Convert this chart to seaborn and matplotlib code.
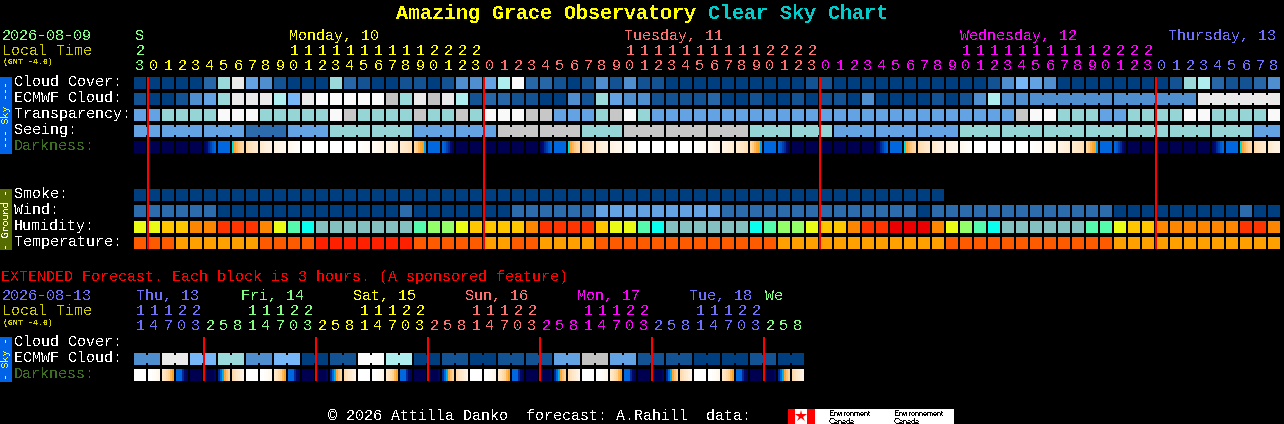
import numpy as np
import pandas as pd
import matplotlib
matplotlib.use("Agg")
import matplotlib.pyplot as plt
from matplotlib.colors import ListedColormap, LinearSegmentedColormap
from matplotlib.patches import Rectangle
import seaborn as sns

W, H = 1284, 424

# ---- scales: level -> colour -------------------------------------------
CLOUD_LEVELS = [0, 10, 20, 30, 40, 50, 60, 70, 80, 90, 100]
CLOUD_COLORS = ["#003F7F", "#135393", "#2767A7", "#4F8FCF", "#63A3E3", "#77B7F7",
                "#9ADADA", "#AEEEEE", "#C2C2C2", "#EAEAEA", "#FBFBFB"]
QUALITY_COLORS = ["#003F7F", "#2C6CAC", "#63A3E3", "#95D5D5", "#C7C7C7", "#F9F9F9"]
HUMID_COLORS = ["#85C0C0", "#09FEED", "#55FAAD", "#94FE6A", "#EAFB16", "#FEC600",
                "#FC8602", "#FE3401", "#EA0000"]
TEMP_COLORS = ["#FFA000", "#FE5A00", "#FF2000"]
DARK_STOPS = [(0.0, "#000050"), (0.12, "#000A70"), (0.25, "#0040B0"), (0.32, "#0068E0"),
              (0.40, "#00B0F0"), (0.44, "#00E0E0"), (0.48, "#FFA020"), (0.60, "#FFC880"),
              (0.75, "#FFE4C0"), (0.90, "#FFF4E6"), (1.0, "#FFFFFF")]

# ---- main forecast rows --------------------------------------------------
CLOUD_COVER = [0,0,0,0,0,20,60,90,40,30,10,0,0,0,60,20,10,0,0,10,10,
               0,10,30,30,40,70,100,20,20,10,0,10,30,10,30,10,10,0,0,0,0,0,0,0,0,0,0,10,10,0,0,
               0,0,0,0,0,0,0,0,0,10,30,50,40,30,0,0,0,0,0,0,0,0,10,60,70,20,10,10,20,30]
ECMWF_CLOUD = [10,0,0,10,30,40,60,90,90,90,70,50,90,100,100,100,100,100,80,60,90,
               80,90,70,10,20,20,10,10,0,0,30,10,60,40,30,30,10,10,10,10,20,0,0,10,0,0,10,0,10,10,0,
               30,0,0,0,0,10,0,10,30,70,30,30,30,30,30,30,30,30,30,30,30,30,30,30,90,90,90,90,90,90]
ECMWF_MERGED = [(64, 69), (70, 75), (76, 81)]
TRANSPARENCY = [2,2,3,3,3,3,5,5,5,3,3,3,3,3,5,4,3,3,3,3,4,
                3,3,4,3,5,5,5,4,4,2,2,2,3,4,5,3,2,2,2,2,2,2,2,2,2,2,2,2,2,2,2,
                2,2,2,2,2,2,2,2,2,2,2,4,5,5,3,3,3,2,2,3,3,3,3,5,5,3,3,3,3,5]
SEEING_3H = [2,2,2,1,2,3,3,2,2,4,4,3,4,4,4,3,3,2,2,2,3,3,3,3,3,3,3,2]
SEEING_SPANS = [2] + [3] * 26 + [2]
SMOKE = [0] * 58
WIND = [1,1,1,1,1,1,0,0,0,0,0,0,0,0,0,0,0,0,0,1,0,
        0,0,0,0,0,0,1,1,1,1,1,1,2,2,2,2,2,2,2,2,2,1,1,1,1,1,1,1,1,1,1,
        1,1,1,1,0,1,1,1,1,1,1,1,1,1,1,1,1,1,0,0,0,0,0,0,0,0,0,1,0,0]
HUMIDITY = [4,4,5,5,6,6,7,7,7,6,4,2,1,0,0,0,0,0,0,0,2,
            3,3,4,5,5,5,5,6,7,7,7,7,5,4,4,2,1,0,0,0,0,0,0,1,2,3,3,4,5,5,6,
            7,7,8,8,8,6,4,3,2,1,0,0,0,0,0,0,2,2,4,5,5,6,6,6,6,6,6,7,7,6]
TEMPERATURE = [1,1,1,0,0,0,0,0,0,1,1,1,1,2,2,2,2,2,2,2,1,
               1,1,1,1,0,0,1,1,0,0,0,0,1,1,1,1,1,1,1,1,1,1,1,1,1,0,0,0,0,0,0,
               0,0,0,0,0,0,1,1,1,1,1,1,1,1,1,1,1,1,0,0,0,0,0,0,0,0,0,0,0,0]

# darkness: a flat level, or six readings across a block where it changes
NIGHT, DAY = 0.0, 1.0
TWI_AM = 0.32
DARK_DAY = [NIGHT, NIGHT, NIGHT, NIGHT, NIGHT,
            [.05, .12, .20, .25, .30, .32], TWI_AM,
            [.44, .50, .55, .60, .65, .68], [.70, .72, .74, .76, .78, .80],
            [.80, .82, .84, .86, .87, .88], [.88, .89, .90, .91, .92, .93],
            [.93, .94, .95, .96, .98, .99], DAY, DAY, DAY, DAY,
            [1., .99, .98, .97, .96, .95], [.95, .94, .93, .92, .91, .90],
            [.90, .88, .87, .85, .84, .82], [.82, .80, .78, .76, .74, .72],
            [.68, .62, .55, .50, .48, .38], TWI_AM,
            [.32, .30, .25, .20, .12, .05], NIGHT]
DARKNESS = DARK_DAY * 3 + DARK_DAY[:10]

# ---- extended forecast rows ---------------------------------------------
EXT_ECMWF_6H = [30,90,50,60,30,50,0,10,100,70,0,10,0,10,10,40,80,40,10,10,0,0,10,0]
EXT_DARK_DAY = [DAY, [1., 1., .98, .96, .94, .92], [.80, .75, .70, .65, .55, .48],
                [.32, .32, .32, .20, .10, .05], NIGHT, [0., 0., 0., 0., 0., .06],
                [.20, .32, .40, .50, .58, .65], [.70, .74, .78, .82, .86, .90]]
EXT_DARKNESS = EXT_DARK_DAY * 6

# ---- labels ---------------------------------------------------------------
UNITS_MAIN = "3" + "012345678901234567890123" * 3 + "012345678"
TENS_MAIN = "2" + "          11111111112222" * 3 + "         "
UNITS_EXT = "14703" + "25814703" * 5 + "258"
TENS_EXT = "11122" + "   11122" * 5 + "   "

GREEN, YELLOW, PINK, MAGENTA, PERIWINKLE = "#80FF80", "#FFFF00", "#FF7070", "#FF00FF", "#7070FF"
MAIN_DAY_COLOR = [(1, GREEN), (24, YELLOW), (24, PINK), (24, MAGENTA), (9, PERIWINKLE)]
EXT_DAY_COLOR = [(5, PERIWINKLE), (8, GREEN), (8, YELLOW), (8, PINK), (8, MAGENTA), (8, PERIWINKLE), (3, GREEN)]
MAIN_DAY_NAMES = [("S", 0, GREEN), ("Monday, 10", 11, YELLOW), ("Tuesday, 11", 34.95, PINK),
                  ("Wednesday, 12", 58.95, MAGENTA), ("Thursday, 13", 73.8, PERIWINKLE)]
EXT_DAY_NAMES = [("Thu, 13", 0, PERIWINKLE), ("Fri, 14", 7.5, GREEN), ("Sat, 15", 15.5, YELLOW),
                 ("Sun, 16", 23.5, PINK), ("Mon, 17", 31.5, MAGENTA), ("Tue, 18", 39.5, PERIWINKLE),
                 ("We", 44.9, GREEN)]
SKY_LABELS = ["Cloud Cover:", "ECMWF Cloud:", "Transparency:", "Seeing:", "Darkness:"]
GROUND_LABELS = ["Smoke:", "Wind:", "Humidity:", "Temperature:"]
EXT_LABELS = ["Cloud Cover:", "ECMWF Cloud:", "Darkness:"]
MIDNIGHT_MAIN = [1, 25, 49, 73]
MIDNIGHT_EXT = [5, 13, 21, 29, 37, 45]

# ---- helpers ----------------------------------------------------------------
sns.set_theme(style="dark")
plt.rcParams["font.family"] = ["Liberation Mono", "DejaVu Sans Mono"]
plt.rcParams["text.antialiased"] = False
plt.rcParams["text.hinting"] = "native"
plt.rcParams["text.hinting_factor"] = 1

fig = plt.figure(figsize=(W / 100, H / 100), dpi=100, facecolor="black")
X0, PITCH, CELL = 134, 14, 12
SUB_X, SUB_Y = 7, 6  # a block is 7x6 samples of 2 px: six filled plus one gap column


def col_x(i):
    return X0 + PITCH * i


def strip(top, values, cmap, vmin, vmax, joins=()):
    """One row of blocks as a seaborn heatmap; joins=(a, b) fuses blocks a..b."""
    n = len(values)
    grid = np.full((SUB_Y, n * SUB_X), np.nan)
    for i, v in enumerate(values):
        if v is None:
            continue
        grid[:, i * SUB_X:i * SUB_X + SUB_X - 1] = np.asarray(v, dtype=float)
    for a, b in joins:
        for i in range(a, b):
            v = values[i]
            last = v[-1] if isinstance(v, list) else v
            grid[1:-1, i * SUB_X + SUB_X - 1] = last
    ax = fig.add_axes([X0 / W, 1 - (top + CELL) / H, n * PITCH / W, CELL / H])
    sns.heatmap(pd.DataFrame(grid), ax=ax, cmap=cmap, vmin=vmin, vmax=vmax, cbar=False,
                xticklabels=False, yticklabels=False, linewidths=0, rasterized=False)
    ax.axis("off")
    return ax


def cat_strip(top, values, colors, joins=()):
    strip(top, values, ListedColormap(colors), -0.5, len(colors) - 0.5, joins)


def cloud_idx(values):
    return [CLOUD_LEVELS.index(v) for v in values]


def expand(groups, spans):
    out = []
    for g, s in zip(groups, spans):
        out += [g] * s
    return out


def spans_to_joins(spans):
    joins, start = [], 0
    for s in spans:
        joins.append((start, start + s - 1))
        start += s
    return joins


dark_cmap = LinearSegmentedColormap.from_list("darkness", DARK_STOPS, N=256)

# ---- draw strips -------------------------------------------------------------
cat_strip(77, cloud_idx(CLOUD_COVER), CLOUD_COLORS)
cat_strip(93, cloud_idx(ECMWF_CLOUD), CLOUD_COLORS, ECMWF_MERGED)
cat_strip(109, TRANSPARENCY, QUALITY_COLORS)
cat_strip(125, expand(SEEING_3H, SEEING_SPANS), QUALITY_COLORS, spans_to_joins(SEEING_SPANS))
strip(141, DARKNESS, dark_cmap, 0, 1)
cat_strip(189, SMOKE, QUALITY_COLORS)
cat_strip(205, WIND, QUALITY_COLORS)
cat_strip(221, HUMIDITY, HUMID_COLORS)
cat_strip(237, TEMPERATURE, TEMP_COLORS)
ext_spans = [2] * len(EXT_ECMWF_6H)
cat_strip(353, cloud_idx(expand(EXT_ECMWF_6H, ext_spans)), CLOUD_COLORS, spans_to_joins(ext_spans))
strip(369, EXT_DARKNESS, dark_cmap, 0, 1)

# ---- overlay in pixel units ----------------------------------------------------
ov = fig.add_axes([0, 0, 1, 1], zorder=10)
ov.set_xlim(0, W)
ov.set_ylim(H, 0)
ov.axis("off")

ov.vlines([col_x(i) for i in MIDNIGHT_MAIN], 77, 249, color="#FF0000", lw=1.44)
ov.vlines([col_x(i) for i in MIDNIGHT_EXT], 337, 381, color="#FF0000", lw=1.44)

FS = 15 * 0.72


def txt(x, y, s, color="white", size=FS, **kw):
    return ov.text(x, y, s, color=color, fontsize=size, va="baseline", ha=kw.pop("ha", "left"), **kw)


def column_colors(spans):
    out = []
    for n, c in spans:
        out += [c] * n
    return out


def hour_rows(tens, units, spans, base_tens, base_units):
    colors = column_colors(spans)
    for i, (t, u) in enumerate(zip(tens, units)):
        cx = col_x(i) + 6
        if t != " ":
            txt(cx, base_tens, t, colors[i], ha="center")
        txt(cx, base_units, u, colors[i], ha="center")


# title
title_kw = dict(size=20 * 0.72, fontweight="bold")
txt(396, 19, "Amazing Grace Observatory", YELLOW, **title_kw)
txt(708, 19, "Clear Sky Chart", "#00CCCC", **title_kw)

# main header
txt(2, 40, "2026-08-09", GREEN)
txt(2, 55, "Local Time", "#CCCC00")
txt(3, 64, "(GMT -4.0)", "#CCCC00", size=5.6, fontweight="bold")
for name, col, c in MAIN_DAY_NAMES:
    txt(col_x(col) + 1, 40, name, c)
hour_rows(TENS_MAIN, UNITS_MAIN, MAIN_DAY_COLOR, 55, 70)

DARK_LABEL = "#3C7020"
for i, lab in enumerate(SKY_LABELS):
    txt(14, 86 + 16 * i, lab, DARK_LABEL if lab.startswith("Dark") else "white")
for i, lab in enumerate(GROUND_LABELS):
    txt(14, 198 + 16 * i, lab)

# extended header
txt(1, 281, "EXTENDED Forecast. Each block is 3 hours. (A sponsored feature)", "#FF0000")
txt(2, 300, "2026-08-13", PERIWINKLE)
txt(2, 315, "Local Time", "#CCCC00")
txt(3, 325, "(GMT -4.0)", "#CCCC00", size=5.6, fontweight="bold")
for name, col, c in EXT_DAY_NAMES:
    txt(col_x(col) + 2, 300, name, c)
hour_rows(TENS_EXT, UNITS_EXT, EXT_DAY_COLOR, 315, 330)
for i, lab in enumerate(EXT_LABELS):
    txt(14, 346 + 16 * i, lab, DARK_LABEL if lab.startswith("Dark") else "white")

# side bars
for y0, y1, fc, tc, lab in [(77, 154, "#0062E6", "#FFFF33", "--- Sky ---"),
                            (189, 250, "#566B00", "white", "- Ground -"),
                            (337, 382, "#0062E6", "#FFFF33", "- Sky -")]:
    ov.add_patch(Rectangle((0, y0), 12, y1 - y0, fc=fc, ec="none"))
    ov.text(6, (y0 + y1) / 2, lab, color=tc, fontsize=6.9, rotation=90, ha="center", va="center",
            family="DejaVu Sans Mono")

# footer and logo
txt(328, 420, "\u00a9 2026 Attilla Danko  forecast: A.Rahill  data:")
ov.add_patch(Rectangle((788, 409), 166, 15, fc="white", ec="none"))
ov.add_patch(Rectangle((788, 409), 7, 15, fc="#FF0000", ec="none"))
ov.add_patch(Rectangle((807, 409), 8, 15, fc="#FF0000", ec="none"))
ov.plot([801], [416], marker="*", ms=9, color="#FF0000", mew=0)
for x, lines in [(829, ("Environment", "Canada")), (894, ("Environnement", "Canada"))]:
    txt(x, 416, lines[0], "black", size=5.6, family="Liberation Sans")
    txt(x, 424, lines[1], "black", size=5.6, family="Liberation Sans")

fig.savefig("out.png", dpi=100, facecolor="black")
